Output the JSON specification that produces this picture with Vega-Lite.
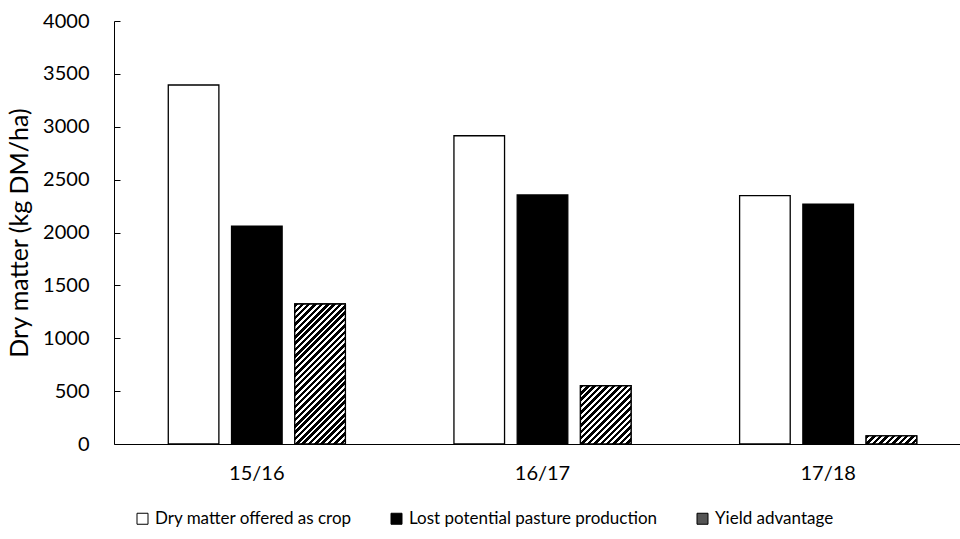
{
  "$schema": "https://vega.github.io/schema/vega-lite/v6.json",
  "width": 846,
  "height": 423,
  "autosize": {"type": "none"},
  "padding": {"left": 114, "top": 21, "right": 0, "bottom": 95},
  "background": "white",
  "config": {
    "view": {"stroke": null},
    "font": "Lato",
    "axis": {"labelColor": "black", "titleColor": "black", "domainColor": "black", "tickColor": "black", "grid": false, "labelFont": "Lato", "titleFont": "Lato"},
    "legend": {"labelFont": "Lato"}
  },
  "data": {
    "values": [
      {"year": "15/16", "series": "Dry matter offered as crop", "value": 3395},
      {"year": "15/16", "series": "Lost potential pasture production", "value": 2061},
      {"year": "15/16", "series": "Yield advantage", "value": 1324},
      {"year": "16/17", "series": "Dry matter offered as crop", "value": 2915},
      {"year": "16/17", "series": "Lost potential pasture production", "value": 2355},
      {"year": "16/17", "series": "Yield advantage", "value": 551},
      {"year": "17/18", "series": "Dry matter offered as crop", "value": 2348},
      {"year": "17/18", "series": "Lost potential pasture production", "value": 2267},
      {"year": "17/18", "series": "Yield advantage", "value": 76}
    ]
  },
  "encoding": {
    "x": {
      "field": "year", "type": "nominal",
      "scale": {"range": [0, 857], "paddingInner": 0.38, "paddingOuter": 0.19},
      "axis": {"title": null, "labelAngle": 0, "ticks": false, "labelFontSize": 20, "labelPadding": 19, "domainWidth": 1}
    },
    "xOffset": {"field": "series", "type": "nominal", "scale": {"paddingInner": 0.2, "paddingOuter": 0}},
    "y": {
      "field": "value", "type": "quantitative",
      "scale": {"domain": [0, 4000], "nice": false},
      "axis": {"values": [0, 500, 1000, 1500, 2000, 2500, 3000, 3500, 4000], "format": "d", "title": "Dry matter (kg DM/ha)", "titleFontSize": 25, "titleFontWeight": "normal", "labelFontSize": 20, "tickSize": -6, "labelPadding": 31, "titlePadding": 10}
    }
  },
  "layer": [
    {
      "mark": {"type": "bar", "strokeWidth": 1.3},
      "encoding": {
        "fill": {
          "field": "series", "type": "nominal",
          "scale": {"domain": ["Dry matter offered as crop", "Lost potential pasture production", "Yield advantage"], "range": ["white", "black", "#555555"]},
          "legend": {
            "title": null, "orient": "none", "direction": "horizontal", "legendX": 20, "legendY": 489,
            "symbolType": "square", "symbolSize": 121, "symbolStrokeWidth": 1,
            "labelFontSize": 17, "labelColor": "black", "labelLimit": 0, "columnPadding": 36, "labelOffset": 4
          }
        },
        "stroke": {
          "field": "series", "type": "nominal",
          "scale": {"domain": ["Dry matter offered as crop", "Lost potential pasture production", "Yield advantage"], "range": ["black", "black", "black"]},
          "legend": {
            "title": null, "orient": "none", "direction": "horizontal", "legendX": 20, "legendY": 489,
            "symbolType": "square", "symbolSize": 121, "symbolStrokeWidth": 1,
            "labelFontSize": 17, "labelColor": "black", "labelLimit": 0, "columnPadding": 36, "labelOffset": 4
          }
        }
      }
    },
    {
      "transform": [{"filter": "datum.series === 'Yield advantage' && datum.year === '15/16'"}],
      "mark": {"type": "bar", "stroke": "black", "strokeWidth": 1.3, "fill": {"gradient": "linear", "x1": 0, "y1": 0, "x2": 0.4352, "y2": 1.2042, "stops": [
        {"offset": 0, "color": "#000"}, {"offset": 0.0183, "color": "#000"}, {"offset": 0.0183, "color": "#fff"}, {"offset": 0.0333, "color": "#fff"},
        {"offset": 0.0333, "color": "#000"}, {"offset": 0.0517, "color": "#000"}, {"offset": 0.0517, "color": "#fff"}, {"offset": 0.0667, "color": "#fff"},
        {"offset": 0.0667, "color": "#000"}, {"offset": 0.085, "color": "#000"}, {"offset": 0.085, "color": "#fff"}, {"offset": 0.1, "color": "#fff"},
        {"offset": 0.1, "color": "#000"}, {"offset": 0.1183, "color": "#000"}, {"offset": 0.1183, "color": "#fff"}, {"offset": 0.1333, "color": "#fff"},
        {"offset": 0.1333, "color": "#000"}, {"offset": 0.1517, "color": "#000"}, {"offset": 0.1517, "color": "#fff"}, {"offset": 0.1667, "color": "#fff"},
        {"offset": 0.1667, "color": "#000"}, {"offset": 0.185, "color": "#000"}, {"offset": 0.185, "color": "#fff"}, {"offset": 0.2, "color": "#fff"},
        {"offset": 0.2, "color": "#000"}, {"offset": 0.2183, "color": "#000"}, {"offset": 0.2183, "color": "#fff"}, {"offset": 0.2333, "color": "#fff"},
        {"offset": 0.2333, "color": "#000"}, {"offset": 0.2517, "color": "#000"}, {"offset": 0.2517, "color": "#fff"}, {"offset": 0.2667, "color": "#fff"},
        {"offset": 0.2667, "color": "#000"}, {"offset": 0.285, "color": "#000"}, {"offset": 0.285, "color": "#fff"}, {"offset": 0.3, "color": "#fff"},
        {"offset": 0.3, "color": "#000"}, {"offset": 0.3183, "color": "#000"}, {"offset": 0.3183, "color": "#fff"}, {"offset": 0.3333, "color": "#fff"},
        {"offset": 0.3333, "color": "#000"}, {"offset": 0.3517, "color": "#000"}, {"offset": 0.3517, "color": "#fff"}, {"offset": 0.3667, "color": "#fff"},
        {"offset": 0.3667, "color": "#000"}, {"offset": 0.385, "color": "#000"}, {"offset": 0.385, "color": "#fff"}, {"offset": 0.4, "color": "#fff"},
        {"offset": 0.4, "color": "#000"}, {"offset": 0.4183, "color": "#000"}, {"offset": 0.4183, "color": "#fff"}, {"offset": 0.4333, "color": "#fff"},
        {"offset": 0.4333, "color": "#000"}, {"offset": 0.4517, "color": "#000"}, {"offset": 0.4517, "color": "#fff"}, {"offset": 0.4667, "color": "#fff"},
        {"offset": 0.4667, "color": "#000"}, {"offset": 0.485, "color": "#000"}, {"offset": 0.485, "color": "#fff"}, {"offset": 0.5, "color": "#fff"},
        {"offset": 0.5, "color": "#000"}, {"offset": 0.5183, "color": "#000"}, {"offset": 0.5183, "color": "#fff"}, {"offset": 0.5333, "color": "#fff"},
        {"offset": 0.5333, "color": "#000"}, {"offset": 0.5517, "color": "#000"}, {"offset": 0.5517, "color": "#fff"}, {"offset": 0.5667, "color": "#fff"},
        {"offset": 0.5667, "color": "#000"}, {"offset": 0.585, "color": "#000"}, {"offset": 0.585, "color": "#fff"}, {"offset": 0.6, "color": "#fff"},
        {"offset": 0.6, "color": "#000"}, {"offset": 0.6183, "color": "#000"}, {"offset": 0.6183, "color": "#fff"}, {"offset": 0.6333, "color": "#fff"},
        {"offset": 0.6333, "color": "#000"}, {"offset": 0.6517, "color": "#000"}, {"offset": 0.6517, "color": "#fff"}, {"offset": 0.6667, "color": "#fff"},
        {"offset": 0.6667, "color": "#000"}, {"offset": 0.685, "color": "#000"}, {"offset": 0.685, "color": "#fff"}, {"offset": 0.7, "color": "#fff"},
        {"offset": 0.7, "color": "#000"}, {"offset": 0.7183, "color": "#000"}, {"offset": 0.7183, "color": "#fff"}, {"offset": 0.7333, "color": "#fff"},
        {"offset": 0.7333, "color": "#000"}, {"offset": 0.7517, "color": "#000"}, {"offset": 0.7517, "color": "#fff"}, {"offset": 0.7667, "color": "#fff"},
        {"offset": 0.7667, "color": "#000"}, {"offset": 0.785, "color": "#000"}, {"offset": 0.785, "color": "#fff"}, {"offset": 0.8, "color": "#fff"},
        {"offset": 0.8, "color": "#000"}, {"offset": 0.8183, "color": "#000"}, {"offset": 0.8183, "color": "#fff"}, {"offset": 0.8333, "color": "#fff"},
        {"offset": 0.8333, "color": "#000"}, {"offset": 0.8517, "color": "#000"}, {"offset": 0.8517, "color": "#fff"}, {"offset": 0.8667, "color": "#fff"},
        {"offset": 0.8667, "color": "#000"}, {"offset": 0.885, "color": "#000"}, {"offset": 0.885, "color": "#fff"}, {"offset": 0.9, "color": "#fff"},
        {"offset": 0.9, "color": "#000"}, {"offset": 0.9183, "color": "#000"}, {"offset": 0.9183, "color": "#fff"}, {"offset": 0.9333, "color": "#fff"},
        {"offset": 0.9333, "color": "#000"}, {"offset": 0.9517, "color": "#000"}, {"offset": 0.9517, "color": "#fff"}, {"offset": 0.9667, "color": "#fff"},
        {"offset": 0.9667, "color": "#000"}, {"offset": 0.985, "color": "#000"}, {"offset": 0.985, "color": "#fff"}, {"offset": 1, "color": "#fff"}
      ]}}
    },
    {
      "transform": [{"filter": "datum.series === 'Yield advantage' && datum.year === '16/17'"}],
      "mark": {"type": "bar", "stroke": "black", "strokeWidth": 1.3, "fill": {"gradient": "linear", "x1": 0, "y1": 0, "x2": 0.9247, "y2": 1.0654, "stops": [
        {"offset": 0, "color": "#000"}, {"offset": 0.0324, "color": "#000"}, {"offset": 0.0324, "color": "#fff"}, {"offset": 0.0588, "color": "#fff"},
        {"offset": 0.0588, "color": "#000"}, {"offset": 0.0912, "color": "#000"}, {"offset": 0.0912, "color": "#fff"}, {"offset": 0.1176, "color": "#fff"},
        {"offset": 0.1176, "color": "#000"}, {"offset": 0.15, "color": "#000"}, {"offset": 0.15, "color": "#fff"}, {"offset": 0.1765, "color": "#fff"},
        {"offset": 0.1765, "color": "#000"}, {"offset": 0.2088, "color": "#000"}, {"offset": 0.2088, "color": "#fff"}, {"offset": 0.2353, "color": "#fff"},
        {"offset": 0.2353, "color": "#000"}, {"offset": 0.2676, "color": "#000"}, {"offset": 0.2676, "color": "#fff"}, {"offset": 0.2941, "color": "#fff"},
        {"offset": 0.2941, "color": "#000"}, {"offset": 0.3265, "color": "#000"}, {"offset": 0.3265, "color": "#fff"}, {"offset": 0.3529, "color": "#fff"},
        {"offset": 0.3529, "color": "#000"}, {"offset": 0.3853, "color": "#000"}, {"offset": 0.3853, "color": "#fff"}, {"offset": 0.4118, "color": "#fff"},
        {"offset": 0.4118, "color": "#000"}, {"offset": 0.4441, "color": "#000"}, {"offset": 0.4441, "color": "#fff"}, {"offset": 0.4706, "color": "#fff"},
        {"offset": 0.4706, "color": "#000"}, {"offset": 0.5029, "color": "#000"}, {"offset": 0.5029, "color": "#fff"}, {"offset": 0.5294, "color": "#fff"},
        {"offset": 0.5294, "color": "#000"}, {"offset": 0.5618, "color": "#000"}, {"offset": 0.5618, "color": "#fff"}, {"offset": 0.5882, "color": "#fff"},
        {"offset": 0.5882, "color": "#000"}, {"offset": 0.6206, "color": "#000"}, {"offset": 0.6206, "color": "#fff"}, {"offset": 0.6471, "color": "#fff"},
        {"offset": 0.6471, "color": "#000"}, {"offset": 0.6794, "color": "#000"}, {"offset": 0.6794, "color": "#fff"}, {"offset": 0.7059, "color": "#fff"},
        {"offset": 0.7059, "color": "#000"}, {"offset": 0.7382, "color": "#000"}, {"offset": 0.7382, "color": "#fff"}, {"offset": 0.7647, "color": "#fff"},
        {"offset": 0.7647, "color": "#000"}, {"offset": 0.7971, "color": "#000"}, {"offset": 0.7971, "color": "#fff"}, {"offset": 0.8235, "color": "#fff"},
        {"offset": 0.8235, "color": "#000"}, {"offset": 0.8559, "color": "#000"}, {"offset": 0.8559, "color": "#fff"}, {"offset": 0.8824, "color": "#fff"},
        {"offset": 0.8824, "color": "#000"}, {"offset": 0.9147, "color": "#000"}, {"offset": 0.9147, "color": "#fff"}, {"offset": 0.9412, "color": "#fff"},
        {"offset": 0.9412, "color": "#000"}, {"offset": 0.9735, "color": "#000"}, {"offset": 0.9735, "color": "#fff"}, {"offset": 1, "color": "#fff"}
      ]}}
    },
    {
      "transform": [{"filter": "datum.series === 'Yield advantage' && datum.year === '17/18'"}],
      "mark": {"type": "bar", "stroke": "black", "strokeWidth": 1.3, "fill": {"gradient": "linear", "x1": 0, "y1": 0, "x2": 1.13, "y2": 0.1787, "stops": [
        {"offset": 0, "color": "#000"}, {"offset": 0.0611, "color": "#000"}, {"offset": 0.0611, "color": "#fff"}, {"offset": 0.1111, "color": "#fff"},
        {"offset": 0.1111, "color": "#000"}, {"offset": 0.1722, "color": "#000"}, {"offset": 0.1722, "color": "#fff"}, {"offset": 0.2222, "color": "#fff"},
        {"offset": 0.2222, "color": "#000"}, {"offset": 0.2833, "color": "#000"}, {"offset": 0.2833, "color": "#fff"}, {"offset": 0.3333, "color": "#fff"},
        {"offset": 0.3333, "color": "#000"}, {"offset": 0.3944, "color": "#000"}, {"offset": 0.3944, "color": "#fff"}, {"offset": 0.4444, "color": "#fff"},
        {"offset": 0.4444, "color": "#000"}, {"offset": 0.5056, "color": "#000"}, {"offset": 0.5056, "color": "#fff"}, {"offset": 0.5556, "color": "#fff"},
        {"offset": 0.5556, "color": "#000"}, {"offset": 0.6167, "color": "#000"}, {"offset": 0.6167, "color": "#fff"}, {"offset": 0.6667, "color": "#fff"},
        {"offset": 0.6667, "color": "#000"}, {"offset": 0.7278, "color": "#000"}, {"offset": 0.7278, "color": "#fff"}, {"offset": 0.7778, "color": "#fff"},
        {"offset": 0.7778, "color": "#000"}, {"offset": 0.8389, "color": "#000"}, {"offset": 0.8389, "color": "#fff"}, {"offset": 0.8889, "color": "#fff"},
        {"offset": 0.8889, "color": "#000"}, {"offset": 0.95, "color": "#000"}, {"offset": 0.95, "color": "#fff"}, {"offset": 1, "color": "#fff"}
      ]}}
    }
  ]
}
